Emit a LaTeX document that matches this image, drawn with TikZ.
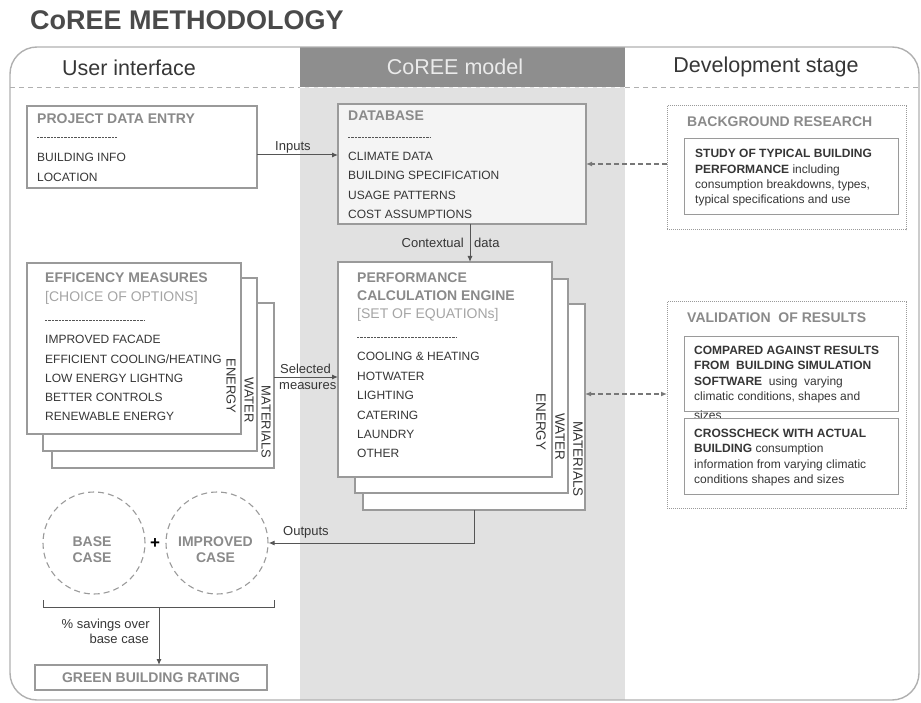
\documentclass[tikz,border=0pt]{standalone}
\usepackage{fontspec}
\setmainfont{Liberation Sans}
\usetikzlibrary{arrows.meta,calc}
\definecolor{bord}{HTML}{9A9A9A}
\definecolor{ttl}{HTML}{8A8A8A}
\definecolor{txt}{HTML}{363636}
\definecolor{ltxt}{HTML}{A5A5A5}
\definecolor{colgray}{HTML}{E1E1E1}
\definecolor{hdgray}{HTML}{8E8E8E}
\definecolor{outl}{HTML}{B0B0B0}
\definecolor{dbfill}{HTML}{F4F4F4}
\definecolor{arrc}{HTML}{555555}
\newcommand\mytl[4]{\node[ttlt] (#1) at (#2,#3) {#4};}
\newcommand\myit[4]{\node[item] (#1) at (#2,#3) {#4};}
\begin{document}
\begin{tikzpicture}[x=1pt,y=-1pt,
  box/.style={draw=bord, line width=1.1pt, fill=white, rectangle, anchor=north west, inner sep=0pt, outer sep=0pt},
  dotbox/.style={draw=bord, line width=1pt, densely dotted, rectangle, anchor=north west, inner sep=0pt, outer sep=0pt},
  ttlt/.style={anchor=base west, inner sep=0pt, font=\fontsize{14}{16}\selectfont\bfseries, text=ttl},
  item/.style={anchor=base west, inner sep=0pt, font=\fontsize{12}{14}\selectfont, text=txt},
  lbl/.style={inner sep=0pt, font=\fontsize{13}{15}\selectfont, text=txt},
  vlab/.style={inner sep=0pt, rotate=-90, text=txt},
  hd/.style={anchor=base, inner sep=0pt, font=\fontsize{21.5}{24}\selectfont},
  sep/.style={draw=txt!85, line width=0.7pt, dash pattern=on 2.4pt off 1pt},
  arr/.style={draw=arrc, line width=1pt, -{Latex[length=6pt,width=5pt]}},
  darr/.style={draw=arrc!80, line width=1.2pt, dash pattern=on 5pt off 3pt},
  circ/.style={circle, draw=bord, line width=1.1pt, dash pattern=on 6pt off 4pt, minimum size=102pt, inner sep=0pt},
  ctxt/.style={inner sep=0pt, align=center, font=\fontsize{14}{16}\selectfont\bfseries, text=ttl}
]
\useasboundingbox (0,0) rectangle (921,703);
% title
\node[anchor=base west, inner sep=0pt, font=\fontsize{27}{30}\selectfont\bfseries, text=txt!90] (title) at (30,30) {CoREE METHODOLOGY};
% background columns
\fill[colgray] (300,87) rectangle (625,700);
\fill[hdgray] (300,47) rectangle (625,87);
\draw[outl, line width=1.4pt, rounded corners=27pt] (10,47) rectangle (919,700);
\draw[outl, line width=1pt, dash pattern=on 5pt off 4pt] (10,88) -- (300,88) (625,88) -- (919,88);
\draw[white, line width=1pt, dash pattern=on 5pt off 4pt] (300,88) -- (625,88);
\node[hd, text=txt] (hui) at (129,76) {User interface};
\node[hd, text=white!92!black] (hcm) at (455,75) {CoREE model};
\node[hd, text=txt] (hds) at (766,73) {Development stage};

% project data entry
\node[box, minimum width=230pt, minimum height=82pt] (pde) at (27,106) {};
\mytl{pdet}{37}{124}{PROJECT DATA ENTRY}
\draw[sep] (37,137) -- (117,137);
\myit{pde1}{37}{162}{BUILDING INFO}
\myit{pde2}{37}{182}{LOCATION}

% database
\node[box, fill=dbfill, minimum width=248pt, minimum height=120pt] (db) at (338,104) {};
\mytl{dbt}{348}{121}{DATABASE}
\draw[sep] (348,137) -- (430,137);
\myit{db1}{348}{161}{CLIMATE DATA}
\myit{db2}{348}{180}{BUILDING SPECIFICATION}
\myit{db3}{348}{200}{USAGE PATTERNS}
\myit{db4}{348}{219}{COST ASSUMPTIONS}

% background research
\node[dotbox, minimum width=239pt, minimum height=124pt] (bgr) at (667,106) {};
\mytl{bgrt}{687}{127}{BACKGROUND RESEARCH}
\node[box, line width=1pt, minimum width=214pt, minimum height=76pt] (bgi) at (684,139) {};
\myit{bg1}{695}{158}{\textbf{STUDY OF TYPICAL BUILDING}}
\myit{bg2}{695}{173.5}{\textbf{PERFORMANCE} including}
\myit{bg3}{695}{189}{consumption breakdowns, types,}
\myit{bg4}{695}{204}{typical specifications and use}

% efficiency stack
\node[box, minimum width=222pt, minimum height=165pt] (eff3) at (52,303) {};
\node[box, minimum width=214pt, minimum height=173pt] (eff2) at (43,278) {};
\node[box, minimum width=214pt, minimum height=171pt] (eff1) at (27,263) {};
\mytl{efft}{45}{283}{EFFICENCY MEASURES}
\node[ttlt, font=\fontsize{14}{16}\selectfont, text=ltxt] (effs) at (45,302) {[CHOICE OF OPTIONS]};
\draw[sep] (45,320) -- (145,320);
\myit{ef1}{45}{344}{IMPROVED FACADE}
\myit{ef2}{45}{363}{EFFICIENT COOLING/HEATING}
\myit{ef3}{45}{382}{LOW ENERGY LIGHTNG}
\myit{ef4}{45}{401}{BETTER CONTROLS}
\myit{ef5}{45}{420}{RENEWABLE ENERGY}
\node[vlab, font=\fontsize{13}{14}\selectfont] (efv1) at (231,386) {ENERGY};
\node[vlab, font=\fontsize{13}{14}\selectfont] (efv2) at (249,400) {WATER};
\node[vlab, font=\fontsize{13}{14}\selectfont] (efv3) at (266,422) {MATERIALS};

% performance calculation engine stack
\node[box, minimum width=222pt, minimum height=206pt] (pce3) at (363,304) {};
\node[box, minimum width=213pt, minimum height=214pt] (pce2) at (355,279) {};
\node[box, minimum width=214pt, minimum height=215pt] (pce1) at (338,262) {};
\mytl{pcet1}{357}{283}{PERFORMANCE}
\mytl{pcet2}{357}{301}{CALCULATION ENGINE}
\node[ttlt, font=\fontsize{14}{16}\selectfont, text=ltxt] (pces) at (357,319) {[SET OF EQUATIONs]};
\draw[sep] (357,337) -- (457,337);
\myit{pc1}{357}{360}{COOLING \& HEATING}
\myit{pc2}{357}{380}{HOTWATER}
\myit{pc3}{357}{399}{LIGHTING}
\myit{pc4}{357}{419}{CATERING}
\myit{pc5}{357}{438}{LAUNDRY}
\myit{pc6}{357}{457}{OTHER}
\node[vlab, font=\fontsize{13.5}{15}\selectfont] (pcv1) at (541,422) {ENERGY};
\node[vlab, font=\fontsize{13.5}{15}\selectfont] (pcv2) at (560,437) {WATER};
\node[vlab, font=\fontsize{13.5}{15}\selectfont] (pcv3) at (578,459) {MATERIALS};

% validation
\node[dotbox, minimum width=239pt, minimum height=206pt] (val) at (667,302) {};
\mytl{valt}{687}{323}{VALIDATION~ OF RESULTS}
\node[box, line width=1pt, minimum width=214pt, minimum height=75pt] (val1) at (684,336) {};
\myit{va1}{694}{354}{\textbf{COMPARED AGAINST RESULTS}}
\myit{va2}{694}{369.5}{\textbf{FROM~ BUILDING SIMULATION}}
\myit{va3}{694}{385}{\textbf{SOFTWARE}~ using~ varying}
\myit{va4}{694}{400.5}{climatic conditions, shapes and}
\myit{va5}{694}{419}{sizes}
\node[box, line width=1pt, minimum width=214pt, minimum height=76pt] (val2) at (684,418) {};
\myit{vb1}{694}{437}{\textbf{CROSSCHECK WITH ACTUAL}}
\myit{vb2}{694}{452.5}{\textbf{BUILDING} consumption}
\myit{vb3}{694}{468}{information from varying climatic}
\myit{vb4}{694}{483.5}{conditions shapes and sizes}

% circles
\node[circ] (base) at (94,543) {};
\node[circ] (imp) at (217,543) {};
\node[ctxt] (baset) at (92,549.5) {BASE\\CASE};
\node[ctxt] (impt) at (215.5,549.5) {IMPROVED\\CASE};
\node[inner sep=0pt, font=\fontsize{17}{18}\selectfont\bfseries, text=black] (plus) at (155,544) {+};

% green building rating
\node[box, minimum width=232pt, minimum height=25pt] (gbr) at (35,665) {};
\node[inner sep=0pt, font=\fontsize{14}{16}\selectfont\bfseries, text=ttl] (gbrt) at (gbr.center) {GREEN BUILDING RATING};

% connectors
\draw[arr] ([yshift=-8pt]pde.east) -- ([yshift=-8pt]pde.east -| db.west);
\node[lbl, anchor=base west] (linp) at (275,151) {Inputs};
\draw[darr, -{Latex[length=6pt,width=5pt]}] (bgr.west |- db.east) -- (db.east);
\draw[arr] ([xshift=8pt]db.south) -- ([xshift=8pt]db.south |- pce1.north);
\node[lbl, anchor=base east] (lctx) at (464,248) {Contextual};
\node[lbl, anchor=base west] (ldat) at (474,248) {data};
\draw[arr] ([yshift=8.5pt]eff3.east) -- ([yshift=8.5pt]eff3.east -| pce1.west);
\node[lbl, anchor=base west] (lsel) at (280,373) {Selected};
\node[lbl, anchor=base west] (lmea) at (279,389) {measures};
\draw[darr, {Latex[length=6pt,width=5pt]}-{Latex[length=6pt,width=5pt]}] ([yshift=13pt]pce3.east) -- ([yshift=13pt]pce3.east -| val.west);
\draw[arr] (pce3.south) |- (imp.east);
\node[lbl, anchor=base west] (lout) at (283,535) {Outputs};
\coordinate (brL) at (43,600);
\coordinate (brR) at (274,600);
\coordinate (brM) at (159,607);
\draw[draw=arrc, line width=1pt] (brL) -- (brL |- brM) -- (brR |- brM) -- (brR);
\draw[arr] (brM) -- (brM |- gbr.north);
\node[lbl, anchor=base east] (lsv1) at (150,628) {\% savings over};
\node[lbl, anchor=base east] (lsv2) at (149,643) {base case};
\end{tikzpicture}
\end{document}
